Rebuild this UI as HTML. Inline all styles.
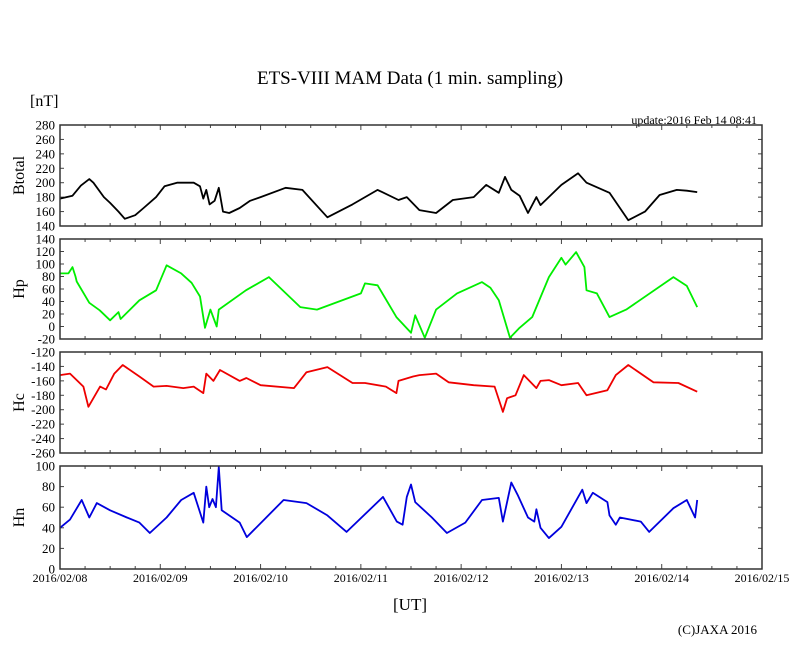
<!DOCTYPE html>
<html><head><meta charset="utf-8">
<style>
body{margin:0;background:#fff;}
svg{display:block;font-family:"Liberation Serif",serif;}
</style></head>
<body>
<svg id="chart" width="810" height="655" viewBox="0 0 810 655">
<text x="410" y="84" text-anchor="middle" font-size="19">ETS-VIII MAM Data (1 min. sampling)</text>
<text x="30" y="106" font-size="16">[nT]</text>
<text x="757" y="124" text-anchor="end" font-size="12">update:2016 Feb 14 08:41</text>
<text x="410" y="610" text-anchor="middle" font-size="17">[UT]</text>
<text x="757" y="634" text-anchor="end" font-size="13">(C)JAXA 2016</text>
<g id="plots"></g>
</svg>
<script>
// time in hours since 2016/02/08 00:00
const btT = [0,3,5,7,8,10.5,12,14,15.5,18,20,23,25,28,32,33.5,34.3,35,35.8,37,38,39,40.5,43,45.5,48,54,58,64,70,76,81,83,86,90,94,99,102,105,106.5,108,110,112,114,115,120,124,126,131.5,136,140,143.5,147.6,150,152.5];
const btV = [178,182,196,205,200,180,172,160,150,155,165,180,195,200,200,195,178,190,170,175,193,160,158,165,175,180,193,190,152,170,190,176,180,162,158,176,180,197,186,208,190,182,158,180,169,197,213,200,186,148,160,183,190,189,187];
const hpT = [0,2,3,3.7,4,7,9.5,12,14,14.5,19,23,25.5,29,31.5,33.5,34.7,36,37.5,38,44.5,50,57.5,61.5,72,73,76,80.5,84,85,87.3,90,95,101,103,105,107.7,110,113,117,120,121,123.5,125.5,126,128.5,131.5,135.5,146.8,150,152.5];
const hpV = [85,85,95,80,72,38,26,10,23,12,42,58,98,85,70,48,-2,27,0,27,58,79,31,27,53,69,66,15,-10,18,-18,27,53,71,62,42,-18,-2,15,79,110,99,119,95,58,53,15,27,79,65,31];
const hcT = [0,2.4,5.6,6.8,9.6,11,13,15,19,22.4,25.5,29.5,32,34.3,35,36.7,38.3,43,44.6,48,56,59,64,70,73,78,80.5,81,84.5,86,90,93,99,104,106,107,109,111,114,115,117,120,124,126,131,133,136,142,148,152.5];
const hcV = [-152,-150,-168,-196,-168,-172,-150,-138,-154,-168,-167,-170,-168,-177,-150,-160,-145,-160,-156,-166,-170,-148,-141,-163,-163,-168,-177,-160,-154,-152,-150,-162,-166,-168,-203,-184,-180,-152,-170,-160,-159,-166,-163,-180,-173,-152,-138,-162,-163,-175];
const hnT = [0,2.4,5.2,7,8.8,12,16,19,21.5,25.5,29,32,34.3,35,35.7,36.5,37.3,38,38.7,43,44.7,53.5,59,64,68.6,77.3,80.6,82,83,84,85,89,92.6,97,101,105,106,108,109.5,112,113.5,114,115,117,120,125,126,127.5,131,131.5,133,134,139,141,146.8,150,152,152.5];
const hnV = [40,48,67,50,64,57,50,45,35,50,67,74,45,80,60,68,60,99,57,45,31,67,64,52,36,70,46,43,70,82,65,50,35,45,67,69,46,84,72,50,46,58,40,30,41,77,64,74,65,52,43,50,46,36,59,67,50,67];
const xTickLabels = ["2016/02/08","2016/02/09","2016/02/10","2016/02/11","2016/02/12","2016/02/13","2016/02/14","2016/02/15"];

const X0=60, X1=762, HOURS=168;
const xs = t => X0 + (X1-X0)*t/HOURS;
const panels = [
  {name:"btotal",label:"Btotal",top:125,bot:226,min:140,max:280,color:"#000",T:btT,V:btV},
  {name:"hp",label:"Hp",top:239,bot:339,min:-20,max:140,color:"#00ee00",T:hpT,V:hpV},
  {name:"hc",label:"Hc",top:352,bot:453,min:-260,max:-120,color:"#ee0000",T:hcT,V:hcV},
  {name:"hn",label:"Hn",top:466,bot:569,min:0,max:100,color:"#0000dd",T:hnT,V:hnV}
];
const NS="http://www.w3.org/2000/svg";
const root=document.getElementById("plots");
function mk(tag,attrs,parent){const e=document.createElementNS(NS,tag);for(const k in attrs)e.setAttribute(k,attrs[k]);parent.appendChild(e);return e;}
panels.forEach((p,pi)=>{
  const g=mk("g",{},root);
  
  
  const ys=v=>p.bot-(p.bot-p.top)*(v-p.min)/(p.max-p.min);
  // ticks
  for(let h=6;h<HOURS;h+=6){
    const x=xs(h), L=(h%24===0)?5:3;
    mk("line",{x1:x,x2:x,y1:p.top,y2:p.top+L,stroke:"#444","stroke-width":1},g);
    mk("line",{x1:x,x2:x,y1:p.bot,y2:p.bot-L,stroke:"#444","stroke-width":1},g);
  }
  for(let v=p.min;v<=p.max;v+=20){
    const y=ys(v);
    mk("line",{x1:X0,x2:X0+4,y1:y,y2:y,stroke:"#444"},g);
    mk("line",{x1:X1,x2:X1-4,y1:y,y2:y,stroke:"#444"},g);
    const t=mk("text",{x:55,y:y+4.5,"text-anchor":"end","font-size":13},g);
    t.textContent=v;
    
    
  }
  const lab=mk("text",{x:0,y:0,"text-anchor":"middle","font-size":16,transform:`translate(24,${(p.top+p.bot)/2}) rotate(-90)`},g);
  lab.textContent=p.label;
  
  
  let d=p.T.map((t,i)=>(i?"L":"M")+xs(t).toFixed(1)+","+ys(p.V[i]).toFixed(1)).join(" ");
  const path=mk("path",{d:d,fill:"none",stroke:p.color,"stroke-width":1.8,"stroke-linejoin":"round"},g);
  
  
  const fr=mk("rect",{x:X0,y:p.top,width:X1-X0,height:p.bot-p.top,fill:"none",stroke:"#333","stroke-width":1.5},g);
  
  
});
xTickLabels.forEach((s,i)=>{
  const t=mk("text",{x:xs(i*24),y:582,"text-anchor":"middle","font-size":12},root);
  t.textContent=s;
  
  
});
</script>
</body></html>
